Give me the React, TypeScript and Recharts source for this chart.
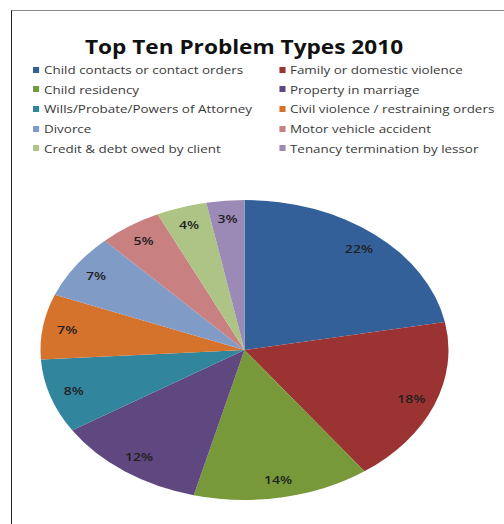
import React from 'react';
import { PieChart, Pie, Cell, Legend } from 'recharts';

const categories = [
  'Child contacts or contact orders',
  'Family or domestic violence',
  'Child residency',
  'Property in marriage',
  'Wills/Probate/Powers of Attorney',
  'Civil violence / restraining orders',
  'Divorce',
  'Motor vehicle accident',
  'Credit & debt owed by client',
  'Tenancy termination by lessor',
];
const shares = [22, 18, 14, 12, 8, 7, 7, 5, 4, 3];
const colors = [
  '#336099', '#9B3333', '#779939', '#5F4880', '#31869E',
  '#D5722C', '#819BC7', '#C88080', '#ADC486', '#9B8AB5',
];
const title = 'Top Ten Problem Types 2010';

const data = categories.map((name, i) => ({ name, value: shares[i] }));

const CX = 244.5;
const CY = 350;
const R = 150;
const SX = 1.36;
const TX = 1.22;
const RAD = Math.PI / 180;

const renderLabel = (p: any) => {
  const a = -p.midAngle * RAD;
  const x = p.cx + 0.88 * p.outerRadius * SX * Math.cos(a);
  const y = p.cy + 0.88 * p.outerRadius * Math.sin(a);
  return (
    <text
      x={0}
      y={0}
      transform={`translate(${x},${y}) scale(${TX},1)`}
      textAnchor="middle"
      dominantBaseline="central"
      fill="#1f1f1f"
      fontSize={11.5}
      fontWeight={600}
      fontFamily="'Open Sans', sans-serif"
    >
      {`${p.value}%`}
    </text>
  );
};

const LegendContent = (props: any) => {
  const items = [...(props.payload || [])].sort(
    (a: any, b: any) => categories.indexOf(a.value) - categories.indexOf(b.value)
  );
  return (
    <div
      style={{
        display: 'grid',
        gridTemplateColumns: `${246 / TX}px ${220 / TX}px`,
        fontFamily: "'Open Sans', sans-serif",
        fontSize: 11,
        color: '#3a3a3a',
        transform: `scaleX(${TX})`,
        transformOrigin: '0 0',
      }}
    >
      {items.map((it: any, i: number) => (
        <div key={i} style={{ display: 'flex', alignItems: 'center', height: 19.6, whiteSpace: 'nowrap' }}>
          <span style={{ display: 'inline-block', flexShrink: 0, width: 5, height: 6, background: it.color, marginRight: 4 }} />
          <span>{it.value}</span>
        </div>
      ))}
    </div>
  );
};

export default function App() {
  return (
    <div style={{ position: 'absolute', left: 0, top: 0, width: 504, height: 524, background: '#fff', overflow: 'hidden' }}>
      <style>{`body{margin:0} path.recharts-sector{transform:scaleX(${SX});transform-origin:${CX}px ${CY}px;}`}</style>
      <div style={{ position: 'absolute', left: 11, top: 9.5, width: 493, height: 514, borderTop: '1px solid #8a8a8a', borderLeft: '1.5px solid #222' }} />
      <div
        style={{
          position: 'absolute',
          left: 0,
          width: 488,
          top: 33,
          textAlign: 'center',
          fontFamily: "'Open Sans', sans-serif",
          fontWeight: 700,
          fontSize: 19.5,
          color: '#111',
          transform: 'scaleX(1.16)',
          transformOrigin: '244px 0',
        }}
      >
        {title}
      </div>
      <PieChart width={504} height={524} margin={{ top: 0, right: 0, bottom: 0, left: 0 }} style={{ position: 'absolute', left: 0, top: 0 }}>
        <Legend
          content={<LegendContent />}
          wrapperStyle={{ position: 'absolute', left: 33, top: 60, width: 470 }}
        />
        <Pie
          data={data}
          dataKey="value"
          nameKey="name"
          cx={CX}
          cy={CY}
          outerRadius={R}
          startAngle={90}
          endAngle={-270}
          stroke="none"
          label={renderLabel}
          labelLine={false}
          isAnimationActive={false}
        >
          {data.map((d, i) => (
            <Cell key={d.name} fill={colors[i]} />
          ))}
        </Pie>
      </PieChart>
    </div>
  );
}
